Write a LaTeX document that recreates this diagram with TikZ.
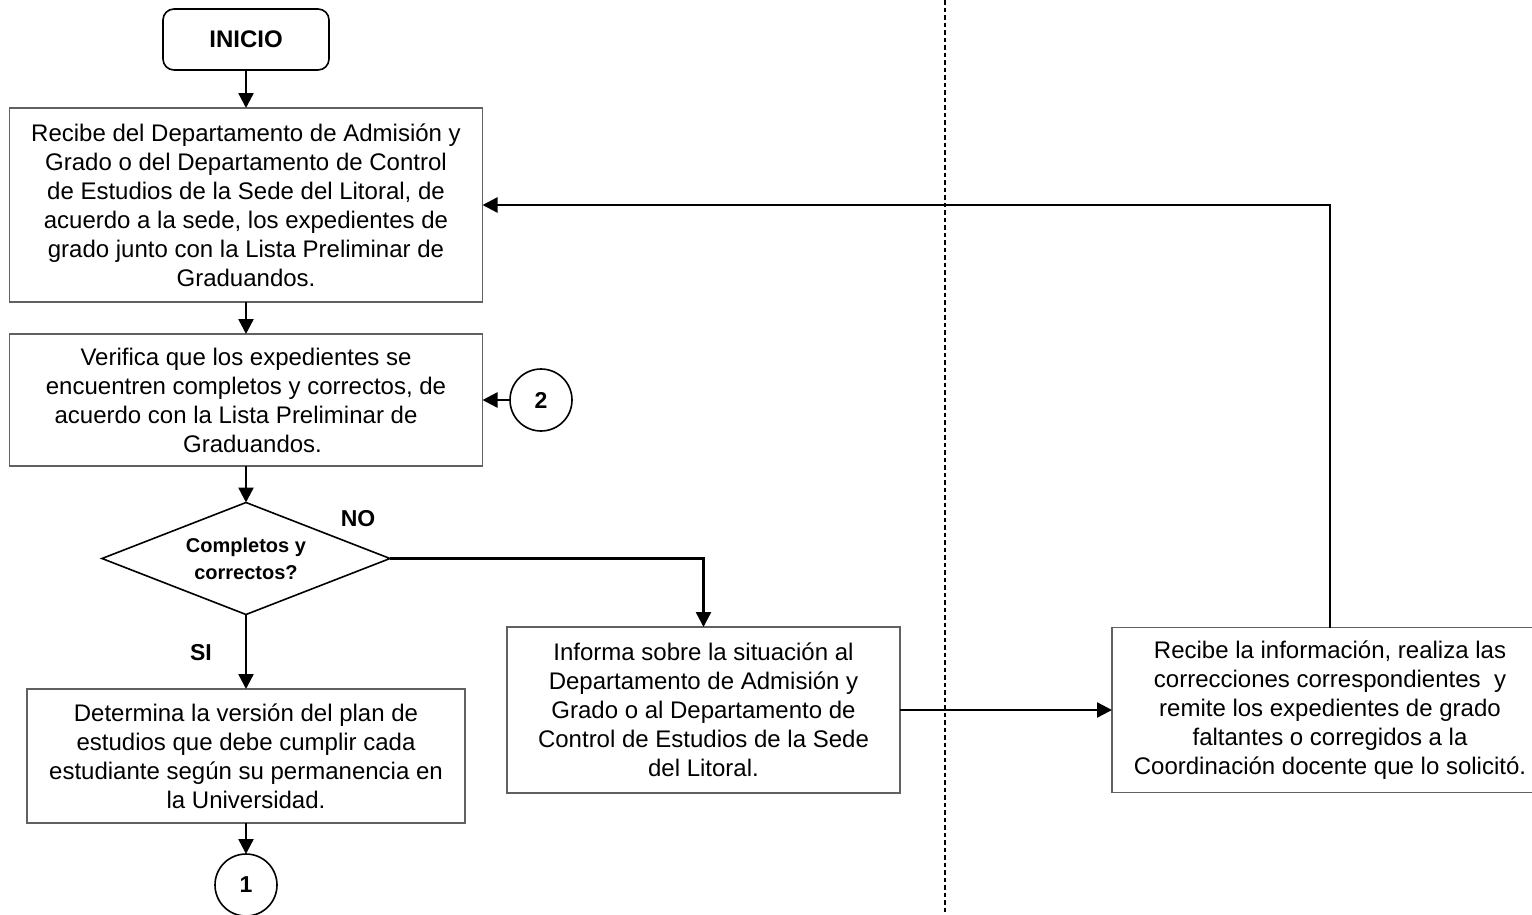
\documentclass[tikz,border=0pt]{standalone}
\usepackage{fontspec}
\setmainfont{Liberation Sans}
\usetikzlibrary{shapes.geometric,arrows.meta}
\newcommand\flowtext{\fontsize{24}{29}\selectfont}
\begin{document}
\begin{tikzpicture}[x=1pt,y=-1pt,
  every node/.style={inner sep=0pt, outer sep=0pt},
  stepbox/.style={rectangle, draw=black!62, line width=1.3pt, align=center, font=\flowtext},
  startbox/.style={rectangle, draw, line width=1.6pt, rounded corners=11pt,
    minimum width=166pt, minimum height=61pt, font=\bfseries\fontsize{24}{29}\selectfont},
  decision/.style={diamond, draw, line width=1.6pt, aspect=2.57, minimum width=288pt,
    minimum height=112pt, align=center, font=\bfseries\fontsize{20}{27}\selectfont},
  conn/.style={circle, draw, line width=1.6pt, minimum size=62pt,
    font=\bfseries\fontsize{23}{26}\selectfont},
  lbl/.style={font=\bfseries\fontsize{23}{27}\selectfont},
  flow/.style={line width=2.4pt, -{Triangle[length=15pt,width=15pt]}},
  lane/.style={line width=1.8pt, dash pattern=on 4.5pt off 3pt}
]
\clip (0,0) rectangle (1532,914);

% swimlane separator
\coordinate (laneTop) at (945,0);
\coordinate (laneBot) at (945,914);
\draw[lane] (laneTop) -- (laneBot);

% process steps
\node[startbox] (inicio) at (246,39.5) {INICIO};
\node[stepbox, minimum width=473pt, minimum height=194pt] (recibe) at (246,205)
  {Recibe del Departamento de Admisión y\\Grado o del Departamento de Control\\de Estudios de la Sede del Litoral, de\\acuerdo a la sede, los expedientes de\\grado junto con la Lista Preliminar de\\Graduandos.};
\node[stepbox, minimum width=473pt, minimum height=132pt] (verifica) at (246,400)
  {Verifica que los expedientes se\\encuentren completos y correctos, de\\acuerdo con la Lista Preliminar de\hspace{20pt}\mbox{}\\\mbox{}\hspace{13pt}Graduandos.};
\node[conn] (c2) at (541,400) {2};
\node[decision] (dec) at (246,558.5) {Completos y\\correctos?};
\node[lbl] (no) at (358,519) {NO};
\node[lbl] (si) at (201,653) {SI};
\node[stepbox, minimum width=393pt, minimum height=166pt] (informa) at (703.5,710)
  {Informa sobre la situación al\\Departamento de Admisión y\\Grado o al Departamento de\\Control de Estudios de la Sede\\del Litoral.};
\node[stepbox, minimum width=436pt, minimum height=165pt] (corrige) at (1330,710)
  {Recibe la información, realiza las\\correcciones correspondientes\ \ y\\remite los expedientes de grado\\faltantes o corregidos a la\\Coordinación docente que lo solicitó.};
\node[stepbox, minimum width=438pt, minimum height=134pt] (determina) at (246,756)
  {Determina la versión del plan de\\estudios que debe cumplir cada\\estudiante según su permanencia en\\la Universidad.};
\node[conn] (c1) at (246,885) {1};

% connectors
\draw[flow] (inicio.south) -- (recibe.north);
\draw[flow] (recibe.south) -- (verifica.north);
\draw[flow] (c2.west) -- (verifica.east);
\draw[flow] (verifica.south) -- (dec.north);
\draw[flow] (dec.east) -| (informa.north);
\draw[flow] (dec.south) -- (determina.north);
\draw[flow] (determina.south) -- (c1.north);
\draw[flow] (informa.east) -- (corrige.west);
\draw[flow] (corrige.north) |- (recibe.east);
\end{tikzpicture}
\end{document}
